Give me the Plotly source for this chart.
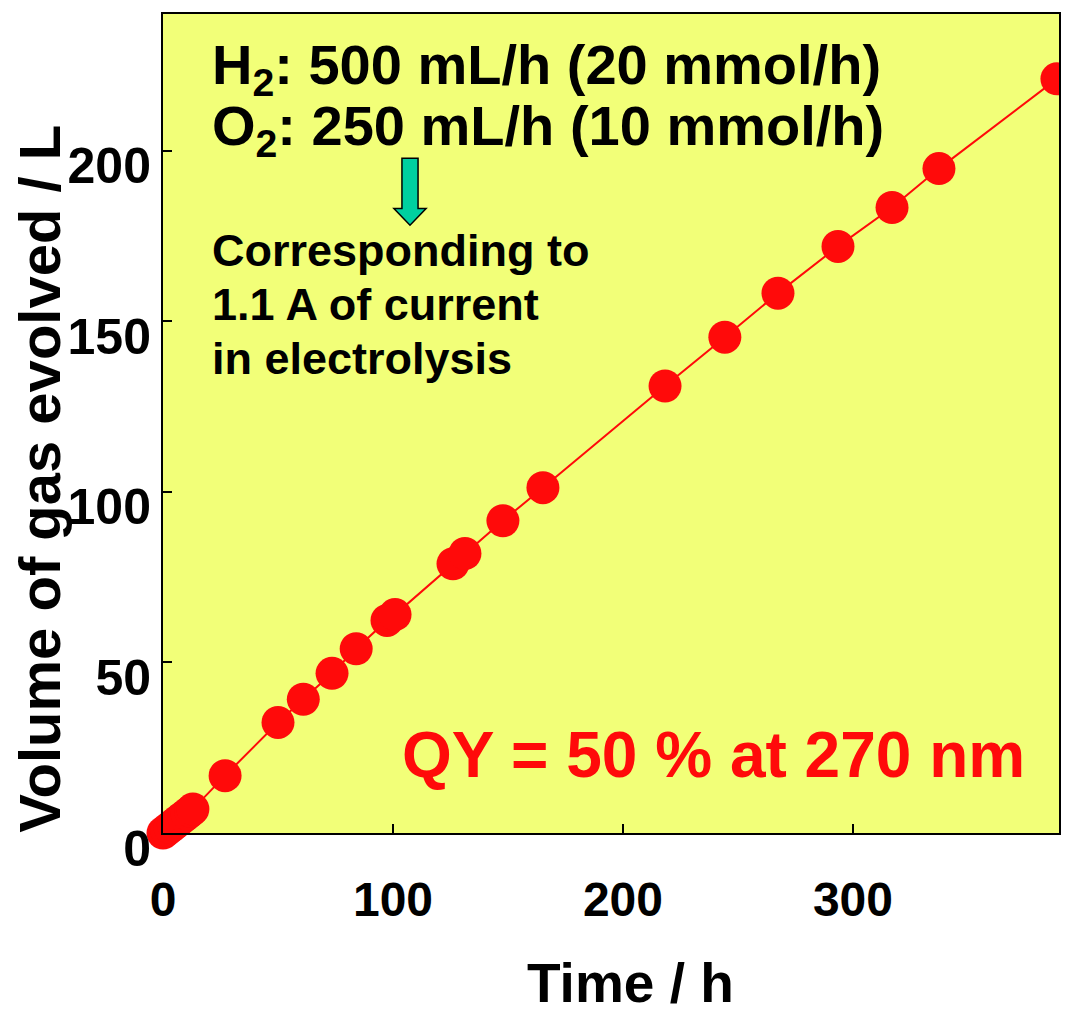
import plotly.graph_objects as go

# ---- data ----
time_h = [0, 1.5, 3, 4.5, 6, 7.5, 9, 10.5, 12, 13, 27, 50, 61, 73.5, 84, 97.4, 100.9,
          126.1, 131.3, 147.8, 165.2, 218.3, 244.3, 267.4, 293.5, 317, 337.4, 388.7]
volume_L = [0, 0.8, 1.6, 2.4, 3.2, 4.0, 4.8, 5.6, 6.4, 7.0, 16.8, 32.4, 39.2, 46.8, 54.0, 62.3, 64.0,
            78.9, 81.9, 91.5, 101.2, 131.0, 145.3, 158.2, 171.9, 183.3, 194.7, 221.0]
x_ticks = [0, 100, 200, 300]
y_ticks = [0, 50, 100, 150, 200]

FONT = "Liberation Sans, Arial, Helvetica, sans-serif"
RED = "#FF0A0A"

fig = go.Figure()
fig.add_trace(go.Scatter(
    x=time_h, y=volume_L, mode="lines+markers",
    line=dict(color=RED, width=2),
    marker=dict(color=RED, size=33, line=dict(width=0)),
    cliponaxis=False, showlegend=False, hoverinfo="skip"))

# block arrow (teal with black outline)
cx, sw, hw = 107.4, 3.5, 7.0
y_top, y_head, y_tip = 197.7, 183.0, 178.1
arrow_path = (f"M {cx-sw},{y_top} L {cx+sw},{y_top} L {cx+sw},{y_head} L {cx+hw},{y_head} "
              f"L {cx},{y_tip} L {cx-hw},{y_head} L {cx-sw},{y_head} Z")
fig.add_shape(type="path", path=arrow_path, xref="x", yref="y",
              fillcolor="#00D0A0", line=dict(color="black", width=1.5))

def txt(text, x, y, size, color="black", xanchor="left"):
    fig.add_annotation(text=text, x=x, y=y, xref="paper", yref="paper",
                       xanchor=xanchor, yanchor="middle", showarrow=False,
                       font=dict(family=FONT, size=size, color=color, weight="bold"))

txt("H<sub>2</sub>: 500 mL/h (20 mmol/h)", 0.0525, 0.933, 56)
txt("O<sub>2</sub>: 250 mL/h (10 mmol/h)", 0.0525, 0.8587, 56)
txt("Corresponding to", 0.0525, 0.7113, 45)
txt("1.1 A of current", 0.0525, 0.6456, 45)
txt("in electrolysis", 0.0525, 0.5798, 45)
txt("QY = 50 % at 270 nm", 0.2645, 0.095, 64, color=RED)

# axis titles
fig.add_annotation(text="Volume of gas evolved / L", x=-0.1373, y=0.4324, xref="paper", yref="paper",
                   xanchor="center", yanchor="middle", textangle=-90, showarrow=False,
                   font=dict(family=FONT, size=58, color="black", weight="bold"))
fig.add_annotation(text="Time / h", x=0.522, y=-0.1827, xref="paper", yref="paper",
                   xanchor="center", yanchor="middle", showarrow=False,
                   font=dict(family=FONT, size=55, color="black", weight="bold"))

# page body has an 8px default margin: size/margins compensate for it
fig.update_layout(
    width=1061, height=1013,
    margin=dict(l=155, r=10, t=4, b=188),
    paper_bgcolor="white", plot_bgcolor="#F2FF78",
    font=dict(family=FONT),
    xaxis=dict(range=[0, 389.6], tickvals=x_ticks, ticks="inside", ticklen=9, tickwidth=1.5,
               tickcolor="black", showline=True, linecolor="black", linewidth=2, mirror=True,
               showgrid=False, zeroline=False,
               tickfont=dict(family=FONT, size=48, color="black", weight="bold"),
               ticklabelstandoff=23),
    yaxis=dict(range=[0, 240], tickvals=y_ticks, ticks="inside", ticklen=9, tickwidth=1.5,
               tickcolor="black", showline=True, linecolor="black", linewidth=2, mirror=True,
               showgrid=False, zeroline=False,
               tickfont=dict(family=FONT, size=50, color="black", weight="bold"),
               ticklabelstandoff=0, ticklabelshift=15),
)

fig.write_html("out.html")
